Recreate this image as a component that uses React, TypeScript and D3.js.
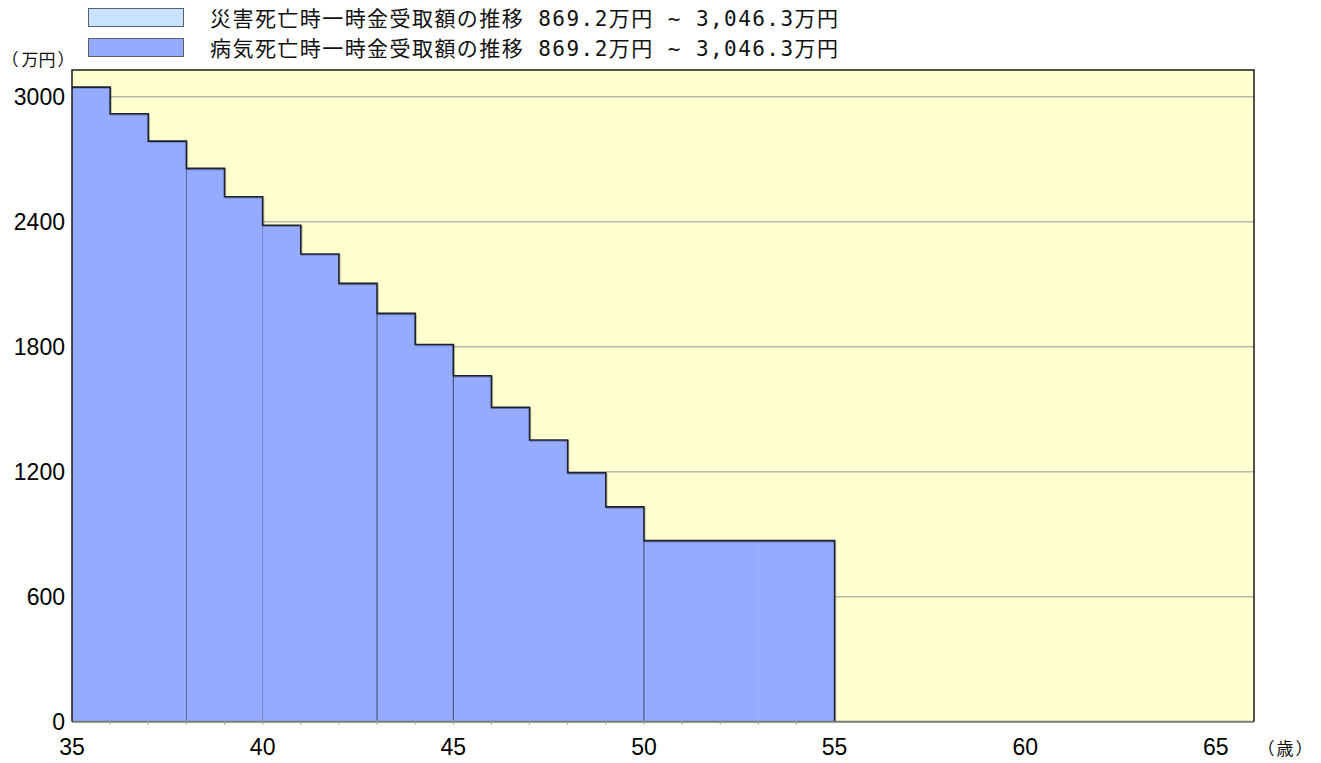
import React, { useEffect, useRef } from 'react';
import * as d3 from 'd3';

// 受取額 (万円) by age: value holds from age to age+1
const AGES = [35, 36, 37, 38, 39, 40, 41, 42, 43, 44, 45, 46, 47, 48, 49, 50, 51, 52, 53, 54];
const AMOUNTS = [3046.3, 2918, 2787, 2656, 2520, 2383, 2245, 2104, 1960, 1811, 1661, 1509, 1352, 1195, 1031, 869.2, 869.2, 869.2, 869.2, 869.2];
const END_AGE = 55;

// divider lines inside the area (segment boundaries) and their strength
const DIVIDER_AGES = [38, 40, 43, 45, 50, 53];
const DIVIDER_TONES = ['#55659a', '#7585c8', '#3a4568', '#3a4568', '#3a4568', '#a2b4ff'];

const X_TICKS = [35, 40, 45, 50, 55, 60, 65];
const Y_TICKS = [0, 600, 1200, 1800, 2400, 3000];

const LEGEND_LABELS = [
  '災害死亡時一時金受取額の推移 869.2万円 ~ 3,046.3万円',
  '病気死亡時一時金受取額の推移 869.2万円 ~ 3,046.3万円',
];
const LEGEND_COLORS = ['#c8e2ff', '#94abff'];

const Y_UNIT = ['（', '万', '円', '）'];
const X_UNIT = ['（', '歳', '）'];

export default function App() {
  const svgRef = useRef<SVGSVGElement>(null);
  const W = 1321;
  const H = 763;
  const MARGIN = { top: 70, right: 67, bottom: 42, left: 72 };

  useEffect(() => {
    const svg = d3.select(svgRef.current);
    svg.selectAll('*').remove();

    const x = d3.scaleLinear().domain([35, 66]).range([MARGIN.left, W - MARGIN.right]);
    const y = d3.scaleLinear().domain([0, 3125]).range([H - MARGIN.bottom + 0.7, MARGIN.top + 0.7]);

    const x0 = x(35), x1 = x(66);
    const yTop = MARGIN.top, yBot = y(0);

    // background
    svg.append('rect')
      .attr('x', x0).attr('y', yTop)
      .attr('width', x1 - x0).attr('height', yBot - yTop)
      .attr('fill', '#ffffcf');

    // gridlines
    Y_TICKS.filter(t => t > 0).forEach(t => {
      svg.append('line')
        .attr('x1', x0).attr('x2', x1)
        .attr('y1', y(t)).attr('y2', y(t))
        .attr('stroke', '#b8b8b0').attr('stroke-width', 1.5);
    });

    // step data
    const pts: [number, number][] = [];
    AGES.forEach((a, i) => {
      pts.push([a, AMOUNTS[i]]);
      pts.push([a + 1, AMOUNTS[i]]);
    });

    const area = d3.area<[number, number]>()
      .x(d => x(d[0]))
      .y0(y(0))
      .y1(d => y(d[1]));

    svg.append('path')
      .datum(pts)
      .attr('d', area)
      .attr('fill', '#94abff');

    // dividers
    DIVIDER_AGES.forEach((a, i) => {
      const idx = AGES.indexOf(a);
      svg.append('line')
        .attr('x1', x(a)).attr('x2', x(a))
        .attr('y1', y(AMOUNTS[idx])).attr('y2', yBot)
        .attr('stroke', DIVIDER_TONES[i]).attr('stroke-width', 1);
    });

    // outline
    const outline = d3.line<[number, number]>()
      .x(d => x(d[0]))
      .y(d => y(d[1]));
    const outPts: [number, number][] = [...pts, [END_AGE, 0]];
    svg.append('path')
      .datum(outPts)
      .attr('d', outline)
      .attr('fill', 'none')
      .attr('stroke', 'rgba(0,0,0,0.25)')
      .attr('stroke-width', 1.5)
      .attr('transform', 'translate(1,1)');
    svg.append('path')
      .datum(outPts)
      .attr('d', outline)
      .attr('fill', 'none')
      .attr('stroke', '#1e2230')
      .attr('stroke-width', 1.6);

    // frame
    svg.append('line')
      .attr('x1', x0).attr('x2', x1).attr('y1', yBot).attr('y2', yBot)
      .attr('stroke', '#7a7a7a').attr('stroke-width', 2);
    svg.append('path')
      .attr('d', `M${x0},${yBot}V${yTop}H${x1}V${yBot}`)
      .attr('fill', 'none')
      .attr('stroke', '#1a1a1a').attr('stroke-width', 1.5);

    // small year ticks under the area
    d3.range(36, END_AGE).forEach(a => {
      svg.append('line')
        .attr('x1', x(a)).attr('x2', x(a))
        .attr('y1', yBot - 2).attr('y2', yBot + 3)
        .attr('stroke', '#9a9ea8').attr('stroke-width', 1);
    });

    // y tick labels
    Y_TICKS.forEach(t => {
      svg.append('text')
        .attr('x', 65).attr('y', y(t))
        .attr('text-anchor', 'end')
        .attr('dominant-baseline', 'central')
        .style('font-family', "'Liberation Sans', Arial, sans-serif")
        .style('font-size', '23px')
        .style('fill', '#000')
        .text(t);
    });

    // x tick labels
    X_TICKS.forEach(t => {
      svg.append('text')
        .attr('x', x(t)).attr('y', 755)
        .attr('text-anchor', 'middle')
        .style('font-family', "'Liberation Sans', Arial, sans-serif")
        .style('font-size', '23px')
        .style('fill', '#000')
        .text(t);
    });

    // unit labels, one glyph at a time (wide spacing as in the original)
    const unitFont = "'Noto Sans CJK JP', sans-serif";
    const yUnitX = [10, 30, 47, 66];
    Y_UNIT.forEach((ch, i) => {
      svg.append('text')
        .attr('x', yUnitX[i]).attr('y', 66)
        .attr('text-anchor', 'middle')
        .style('font-family', unitFont)
        .style('font-size', '17px')
        .style('fill', '#111')
        .text(ch);
    });
    const xUnitX = [1266, 1285, 1304];
    X_UNIT.forEach((ch, i) => {
      svg.append('text')
        .attr('x', xUnitX[i]).attr('y', 755)
        .attr('text-anchor', 'middle')
        .style('font-family', unitFont)
        .style('font-size', '17px')
        .style('fill', '#111')
        .text(ch);
    });

    // legend
    LEGEND_LABELS.forEach((label, i) => {
      const ly = 8 + i * 30;
      svg.append('rect')
        .attr('x', 88.5).attr('y', ly + 0.5)
        .attr('width', 95).attr('height', 18)
        .attr('fill', LEGEND_COLORS[i])
        .attr('stroke', '#5a6070').attr('stroke-width', 1);
      svg.append('text')
        .attr('x', 210).attr('y', ly + 18)
        .style('font-family', "'DejaVu Sans Mono', 'Noto Sans CJK JP', monospace")
        .style('font-size', '21px')
        .style('fill', '#111')
        .attr('textLength', 628)
        .attr('lengthAdjust', 'spacing')
        .text(label);
    });
  }, []);

  return (
    <svg
      ref={svgRef}
      width={W}
      height={H}
      style={{ position: 'absolute', left: 0, top: 0, background: '#fff' }}
    />
  );
}
